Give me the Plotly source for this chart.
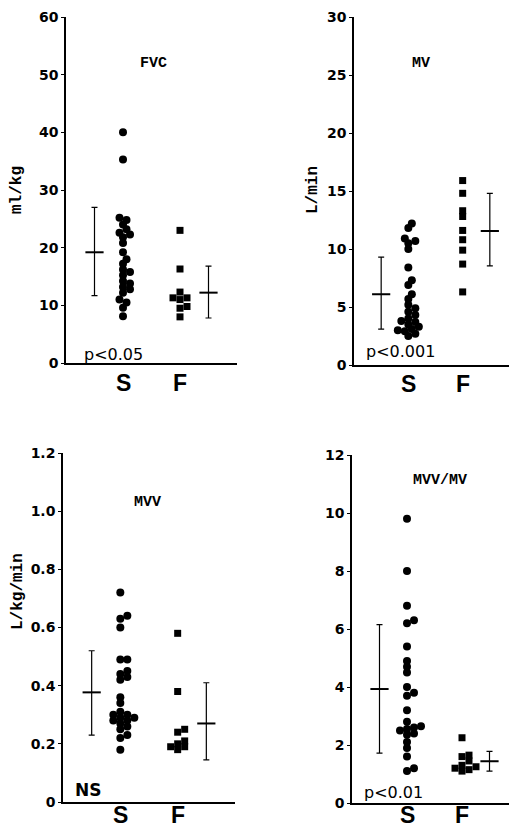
import plotly.graph_objects as go

# ---------------- data ----------------
groups = ["S", "F"]

fvc_S = [40.0, 35.3, 25.2, 24.8, 24.0, 23.2, 22.6, 22.3, 21.8, 20.8, 19.2, 18.0, 17.2,
         16.2, 15.8, 15.2, 14.2, 13.8, 13.2, 12.8, 12.2, 11.0, 10.5, 9.6, 8.1]
fvc_F = [23.0, 16.3, 12.3, 11.3, 11.3, 11.0, 9.8, 9.5, 8.0]
fvc_stats = {"S": (19.2, 11.7, 27.0), "F": (12.2, 7.8, 16.8)}

mv_S = [12.2, 11.8, 10.9, 10.7, 10.5, 10.0, 8.4, 7.3, 6.9, 6.1, 5.7, 5.2, 4.9, 4.6,
        4.3, 4.0, 3.8, 3.7, 3.5, 3.3, 3.1, 3.0, 2.9, 2.7, 2.5]
mv_F = [15.9, 14.8, 13.3, 12.8, 11.6, 10.8, 9.9, 8.7, 6.3]
mv_stats = {"S": (6.1, 3.1, 9.3), "F": (11.55, 8.55, 14.8)}

mvv_S = [0.72, 0.64, 0.63, 0.60, 0.49, 0.49, 0.45, 0.44, 0.43, 0.42, 0.36, 0.34, 0.31,
         0.30, 0.30, 0.29, 0.29, 0.28, 0.28, 0.27, 0.26, 0.25, 0.23, 0.22, 0.18]
mvv_F = [0.58, 0.38, 0.25, 0.24, 0.21, 0.20, 0.19, 0.19, 0.18]
mvv_stats = {"S": (0.377, 0.23, 0.52), "F": (0.27, 0.145, 0.41)}

ratio_S = [9.8, 8.0, 6.8, 6.3, 6.2, 5.4, 4.9, 4.7, 4.5, 4.0, 3.8, 3.7, 3.2, 2.8, 2.65,
           2.6, 2.55, 2.5, 2.4, 2.35, 2.1, 1.9, 1.6, 1.2, 1.1]
ratio_F = [2.25, 1.65, 1.6, 1.45, 1.3, 1.25, 1.2, 1.15, 1.1]
ratio_stats = {"S": (3.93, 1.72, 6.15), "F": (1.44, 1.1, 1.78)}

panels = [
    dict(name="FVC", unit="ml/kg", S=fvc_S, F=fvc_F, stats=fvc_stats, pval="p<0.05",
         yticks=[0, 10, 20, 30, 40, 50, 60], yticktext=["0", "10", "20", "30", "40", "50", "60"]),
    dict(name="MV", unit="L/min", S=mv_S, F=mv_F, stats=mv_stats, pval="p<0.001",
         yticks=[0, 5, 10, 15, 20, 25, 30], yticktext=["0", "5", "10", "15", "20", "25", "30"]),
    dict(name="MVV", unit="L/kg/min", S=mvv_S, F=mvv_F, stats=mvv_stats, pval="NS",
         yticks=[0, 0.2, 0.4, 0.6, 0.8, 1.0, 1.2],
         yticktext=["0", "0.2", "0.4", "0.6", "0.8", "1.0", "1.2"]),
    dict(name="MVV/MV", unit="", S=ratio_S, F=ratio_F, stats=ratio_stats, pval="p<0.01",
         yticks=[0, 2, 4, 6, 8, 10, 12], yticktext=["0", "2", "4", "6", "8", "10", "12"]),
]

# ---------------- layout geometry (window pixels) ----------------
OFF = 8                      # default page body margin
W, H = 517 - OFF, 828 - OFF  # figure size so that it ends at the window edge


def px(x):
    return (x - OFF) / W


def py(y):
    return 1 - (y - OFF) / H


# (x_left, x_right, y_top, y_bottom, group-label offset) in window pixels
boxes = [(66, 237, 17, 363, 20), (354, 517, 17, 365, 19),
         (63, 235, 453, 802, 13), (352, 517, 455, 803, 12)]
XMAX = 3.0
pos = {"S": 1.0, "F": 2.0, "mS": 0.5, "mF": 2.5}


def swarm(vals, ymax, ylen_px, xunit_px, d=7.0):
    placed = []
    res = [0.0] * len(vals)
    order = sorted(range(len(vals)), key=lambda i: vals[i])
    cands = [0.0]
    for j in range(1, 12):
        cands += [j * d * 0.5, -j * d * 0.5]
    for i in order:
        ypx = vals[i] / ymax * ylen_px
        chosen = cands[-1]
        for c in cands:
            if all((c - qx) ** 2 + (ypx - qy) ** 2 >= (0.82 * d) ** 2 for qx, qy in placed):
                chosen = c
                break
        placed.append((chosen, ypx))
        res[i] = chosen / xunit_px
    return res


fig = go.Figure()
layout = dict(width=W, height=H, margin=dict(l=0, r=0, t=0, b=0),
              paper_bgcolor="white", plot_bgcolor="white", showlegend=False)
annotations = []

tickfont = dict(family="DejaVu Sans", size=14, color="black", weight="bold")
monofont = dict(family="Liberation Mono", size=15, color="black", weight="bold")
groupfont = dict(family="Liberation Sans", size=23, color="black", weight="bold")

for k, (p, box) in enumerate(zip(panels, boxes)):
    n = "" if k == 0 else str(k + 1)
    xa, ya = "x" + n, "y" + n
    xl, xr, yt, yb, gl = box
    ymax = p["yticks"][-1]
    xunit = (xr - xl) / XMAX
    ylen = yb - yt

    for g, sym, size in (("S", "circle", 8), ("F", "square", 7)):
        vals = p[g]
        offs = swarm(vals, ymax, ylen, xunit)
        fig.add_trace(go.Scatter(
            x=[pos[g] + o for o in offs], y=vals, mode="markers", xaxis=xa, yaxis=ya,
            marker=dict(symbol=sym, size=size, color="black", line=dict(width=0)),
            hoverinfo="y"))
        mean, lo, hi = p["stats"][g]
        fig.add_trace(go.Scatter(
            x=[pos["m" + g]], y=[mean], mode="markers", xaxis=xa, yaxis=ya,
            marker=dict(symbol="line-ew", size=13, line=dict(width=2, color="black")),
            error_y=dict(type="data", symmetric=False, array=[hi - mean],
                         arrayminus=[mean - lo], thickness=1.2, width=3, color="black")))
        # group label under the axis
        annotations.append(dict(text=g, x=pos[g], xref=xa, y=py(yb + gl), yref="paper",
                                showarrow=False, font=groupfont,
                                xanchor="center", yanchor="middle"))

    layout["xaxis" + n] = dict(
        domain=[px(xl), px(xr)], range=[0, XMAX], anchor=ya, showgrid=False, zeroline=False,
        showline=True, linecolor="black", linewidth=1.5, ticks="", showticklabels=False,
        automargin=False, fixedrange=True)
    layout["yaxis" + n] = dict(
        domain=[py(yb), py(yt)], range=[0, ymax], anchor=xa, showgrid=False,
        zeroline=False, showline=True, linecolor="black", linewidth=1.5,
        ticks="outside", ticklen=3, tickwidth=1, tickcolor="black",
        tickvals=p["yticks"], ticktext=p["yticktext"], tickfont=tickfont,
        automargin=False, fixedrange=True)

# panel titles
for p, (x, y) in zip(panels, ((153, 63), (421, 63), (147, 502), (440, 481))):
    annotations.append(dict(text=p["name"], x=px(x), y=py(y), xref="paper", yref="paper",
                            showarrow=False, font=monofont, xanchor="center", yanchor="middle"))
# y-axis unit labels
for p, (x, y) in zip(panels[:3], ((17, 190), (313, 190), (18, 592))):
    annotations.append(dict(text=p["unit"], x=px(x), y=py(y), xref="paper", yref="paper",
                            showarrow=False, textangle=-90,
                            font=dict(family="Liberation Mono", size=16, color="black", weight="bold"),
                            xanchor="center", yanchor="middle"))
# significance labels
for p, (x, y), f in zip(panels, ((113, 355), (400, 352), (88, 790), (393, 792)),
                        ((16, "normal"), (16, "normal"), (17, "bold"), (16, "normal"))):
    annotations.append(dict(text=p["pval"], x=px(x), y=py(y), xref="paper", yref="paper",
                            showarrow=False,
                            font=dict(family="DejaVu Sans", size=f[0], color="black", weight=f[1]),
                            xanchor="center", yanchor="middle"))

layout["annotations"] = annotations
fig.update_layout(**layout)
fig.write_html("out.html")
